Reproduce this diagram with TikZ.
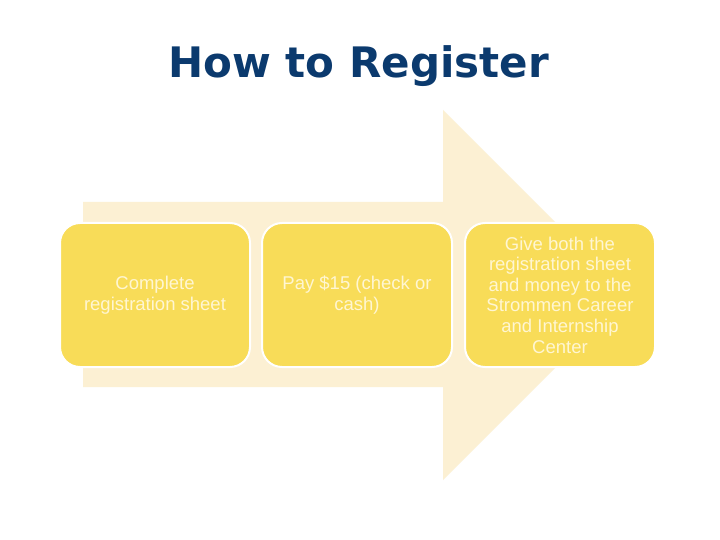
\documentclass[tikz,border=0pt]{standalone}
\usepackage{fontspec}
\setmainfont{Liberation Sans}
\newfontfamily\titlefont{DejaVu Sans}
\definecolor{titleblue}{HTML}{0B3A6E}
\definecolor{boxfill}{HTML}{F8DC58}
\definecolor{arrowfill}{HTML}{FCF0D3}
\definecolor{boxtext}{HTML}{FFF6D2}
\tikzset{
  stepbox/.style={draw=white, line width=2pt, fill=boxfill, rounded corners=20pt,
    minimum width=190pt, minimum height=144pt, align=center,
    text=boxtext, font=\fontsize{18.5}{20.6}\selectfont},
}
\begin{document}
\begin{tikzpicture}[x=1pt,y=-1pt]
\useasboundingbox[fill=white] (0,0) rectangle (720,540);
\node[font=\titlefont\fontsize{42}{46}\selectfont\bfseries, text=titleblue, anchor=base] (title) at (358.5,78) {How to Register};
\fill[arrowfill] (83,202) -- (443,202) -- (443,110) -- (628,295) -- (443,480) -- (443,387) -- (83,387) -- cycle;
\node[stepbox] (s1) at (155,295) {Complete\\registration sheet};
\node[stepbox] (s2) at (357,295) {Pay \$15 (check or\\cash)};
\node[stepbox] (s3) at (560,295) {Give both the\\registration sheet\\and money to the\\Strommen Career\\and Internship\\Center};
\end{tikzpicture}
\end{document}
